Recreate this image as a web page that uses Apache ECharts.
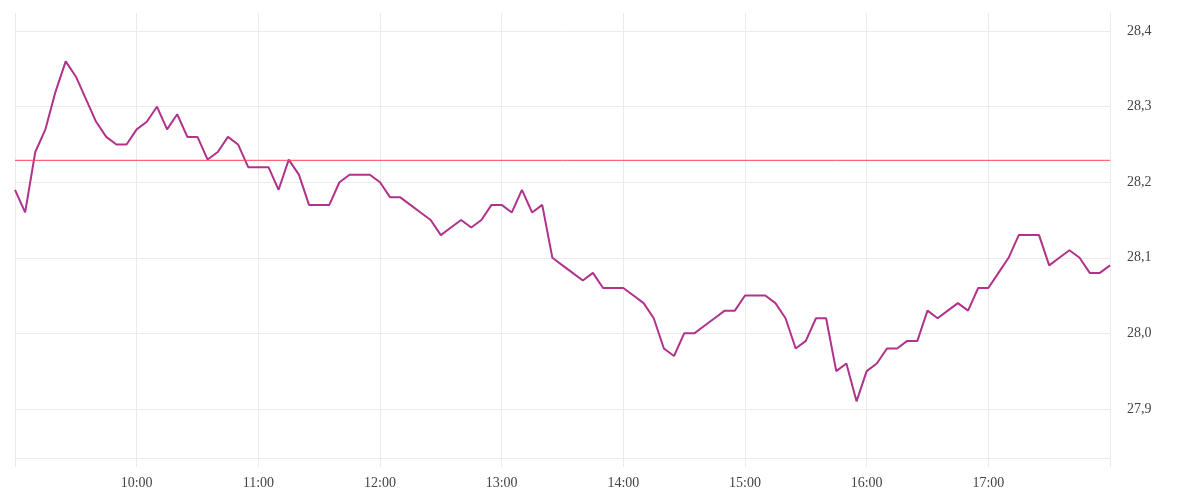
<!DOCTYPE html>
<html>
<head>
<meta charset="utf-8">
<script src="https://cdn.jsdelivr.net/npm/echarts@6/dist/echarts.min.js"></script>
<style>html,body{margin:0;padding:0;background:#fff}#c{width:1200px;height:500px}</style>
</head>
<body>
<div id="c"></div>
<script>
// 5-minute intervals from 09:00 to 18:00
const startHour = 9;
const stepMinutes = 5;
const prices = [
  28.19, 28.16, 28.24, 28.27, 28.32, 28.36, 28.34, 28.31, 28.28, 28.26, 28.25, 28.25,
  28.27, 28.28, 28.30, 28.27, 28.29, 28.26, 28.26, 28.23, 28.24, 28.26, 28.25, 28.22,
  28.22, 28.22, 28.19, 28.23, 28.21, 28.17, 28.17, 28.17, 28.20, 28.21, 28.21, 28.21,
  28.20, 28.18, 28.18, 28.17, 28.16, 28.15, 28.13, 28.14, 28.15, 28.14, 28.15, 28.17,
  28.17, 28.16, 28.19, 28.16, 28.17, 28.10, 28.09, 28.08, 28.07, 28.08, 28.06, 28.06,
  28.06, 28.05, 28.04, 28.02, 27.98, 27.97, 28.00, 28.00, 28.01, 28.02, 28.03, 28.03,
  28.05, 28.05, 28.05, 28.04, 28.02, 27.98, 27.99, 28.02, 28.02, 27.95, 27.96, 27.91,
  27.95, 27.96, 27.98, 27.98, 27.99, 27.99, 28.03, 28.02, 28.03, 28.04, 28.03, 28.06,
  28.06, 28.08, 28.10, 28.13, 28.13, 28.13, 28.09, 28.10, 28.11, 28.10, 28.08, 28.08,
  28.09
];
const referencePrice = 28.229;
const yMin = 27.835;
const yMax = 28.424;

const times = prices.map((_, i) => {
  const m = startHour * 60 + i * stepMinutes;
  const h = Math.floor(m / 60), mm = m % 60;
  return h + ':' + (mm < 10 ? '0' : '') + mm;
});
const lastIdx = times.length - 1;
const isHour = (i) => times[i].endsWith(':00');

const chart = echarts.init(document.getElementById('c'), null, {renderer: 'canvas'});
const font = '"Liberation Serif", serif';
const refColor = '#ff4455';
chart.setOption({
  animation: false,
  backgroundColor: '#fff',
  grid: {left: 15, right: 90, top: 13, bottom: 42, containLabel: false},
  xAxis: {
    type: 'category',
    data: times,
    boundaryGap: false,
    axisLine: {show: true, lineStyle: {color: '#ebebeb', width: 1}},
    axisTick: {show: true, length: 9, interval: (i) => isHour(i), lineStyle: {color: '#ebebeb'}},
    splitLine: {show: true, interval: (i) => isHour(i), lineStyle: {color: '#ebebeb', width: 1}},
    axisLabel: {
      interval: (i) => isHour(i) && i !== 0 && i !== lastIdx,
      margin: 18,
      color: '#444',
      fontFamily: font,
      fontSize: 14
    }
  },
  yAxis: {
    type: 'value',
    position: 'right',
    min: yMin,
    max: yMax,
    splitNumber: 6,
    axisLine: {show: true, lineStyle: {color: '#ebebeb'}},
    axisTick: {show: false},
    splitLine: {show: true, showMinLine: false, showMaxLine: false, lineStyle: {color: '#ebebeb', width: 1}},
    axisLabel: {
      showMinLabel: false,
      showMaxLabel: false,
      margin: 17,
      color: '#444',
      fontFamily: font,
      fontSize: 14,
      formatter: (v) => v.toFixed(1).replace('.', ',')
    }
  },
  series: [{
    name: 'price',
    type: 'line',
    data: prices,
    showSymbol: false,
    symbol: 'none',
    lineStyle: {color: '#b0328a', width: 2},
    itemStyle: {color: '#b0328a'},
    z: 2
  }, {
    name: 'reference',
    type: 'line',
    data: [[0, referencePrice], [lastIdx, referencePrice]],
    showSymbol: false,
    symbol: 'none',
    silent: true,
    lineStyle: {color: refColor, width: 1},
    itemStyle: {color: refColor},
    z: 3
  }]
});
</script>
</body>
</html>
